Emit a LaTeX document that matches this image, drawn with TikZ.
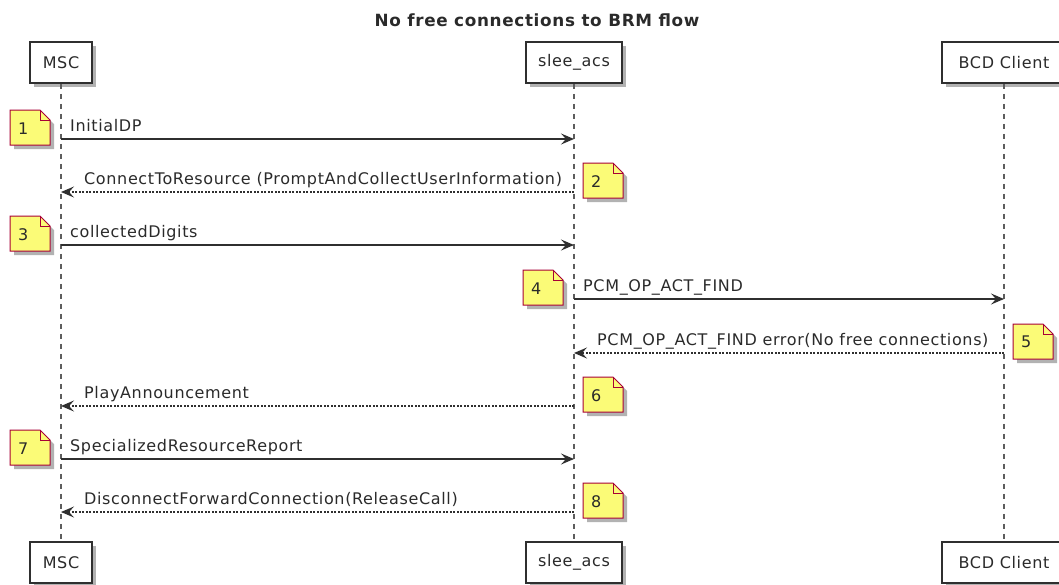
\documentclass[tikz,border=0pt]{standalone}
\usepackage{fontspec}
\setmainfont{DejaVu Sans}[LetterSpace=4]
\usetikzlibrary{arrows.meta,shadows,calc}
\definecolor{notefill}{HTML}{FBFB77}
\definecolor{noteline}{HTML}{A80036}
\definecolor{ink}{HTML}{181818}
\definecolor{txt}{HTML}{2A2A2A}
\newcommand\mynote[4]{%
  \path[notebody] (#2,#3) -- ++(30,0) -- ++(10,10) -- ++(0,25) -- ++(-40,0) -- cycle;
  \draw[noteline, line width=1pt] (#2+30,#3) -- ++(0,10) -- ++(10,0);
  \node[notelabel] (#1) at (#2,#3) {#4};}
\begin{document}
\begin{tikzpicture}[x=1pt,y=-1pt,
  every node/.style={font=\fontsize{16}{18}\selectfont, text=txt},
  actor/.style={draw=ink!90, line width=1.5pt, fill=white, minimum height=41pt, inner sep=0pt,
    drop shadow={shadow xshift=4pt, shadow yshift=-4pt, opacity=0.3, fill=black}},
  life/.style={draw=ink!70, line width=1.2pt, dash pattern=on 5pt off 5pt},
  msg/.style={draw=ink!90, line width=1.3pt, -{Stealth[length=13pt,width=11pt,inset=5pt]}},
  reply/.style={msg, dash pattern=on 2pt off 1.5pt},
  lbl/.style={anchor=base west, inner sep=0pt},
  notebody/.style={fill=notefill, draw=noteline, line width=1pt, line join=miter,
    drop shadow={shadow xshift=4pt, shadow yshift=-4pt, opacity=0.3, fill=black}},
  notelabel/.style={anchor=north west, text width=24pt, align=left, inner xsep=8pt, inner ysep=0pt, minimum height=36pt},
]
\useasboundingbox (0,0) rectangle (1059,584);

\node[font=\bfseries\fontsize{16.8}{19}\selectfont] (title) at (537,20) {No free connections to BRM flow};

% participants
\node[actor, minimum width=62pt] (msc) at (61,62.5) {MSC};
\node[actor, minimum width=96pt] (slee) at (574,62.5) {slee\_acs};
\node[actor, minimum width=124pt] (bcd) at (1004,62.5) {BCD Client};
\node[actor, minimum width=62pt] (mscb) at (61,562.5) {MSC};
\node[actor, minimum width=96pt] (sleeb) at (574,562.5) {slee\_acs};
\node[actor, minimum width=124pt] (bcdb) at (1004,562.5) {BCD Client};

\draw[life] (msc.south) -- (mscb.north);
\draw[life] (slee.south) -- (sleeb.north);
\draw[life] (bcd.south) -- (bcdb.north);

% message rows
\coordinate (r1) at (0,139);
\coordinate (r2) at (0,192);
\coordinate (r3) at (0,245);
\coordinate (r4) at (0,299);
\coordinate (r5) at (0,353);
\coordinate (r6) at (0,406);
\coordinate (r7) at (0,459);
\coordinate (r8) at (0,512);

\draw[msg] (msc |- r1) -- (slee |- r1);
\node[lbl] (l1) at ($(msc |- r1)+(9,-8)$) {InitialDP};
\draw[reply] (slee |- r2) -- (msc |- r2);
\node[lbl] (l2) at ($(msc |- r2)+(23,-8)$) {ConnectToResource (PromptAndCollectUserInformation)};
\draw[msg] (msc |- r3) -- (slee |- r3);
\node[lbl] (l3) at ($(msc |- r3)+(9,-8)$) {collectedDigits};
\draw[msg] (slee |- r4) -- (bcd |- r4);
\node[lbl] (l4) at ($(slee |- r4)+(9,-8)$) {PCM\_OP\_ACT\_FIND};
\draw[reply] (bcd |- r5) -- (slee |- r5);
\node[lbl] (l5) at ($(slee |- r5)+(23,-8)$) {PCM\_OP\_ACT\_FIND error(No free connections)};
\draw[reply] (slee |- r6) -- (msc |- r6);
\node[lbl] (l6) at ($(msc |- r6)+(23,-8)$) {PlayAnnouncement};
\draw[msg] (msc |- r7) -- (slee |- r7);
\node[lbl] (l7) at ($(msc |- r7)+(9,-8)$) {SpecializedResourceReport};
\draw[reply] (slee |- r8) -- (msc |- r8);
\node[lbl] (l8) at ($(msc |- r8)+(23,-8)$) {DisconnectForwardConnection(ReleaseCall)};

% notes
\mynote{n1}{10}{110}{1}
\mynote{n2}{583}{163}{2}
\mynote{n3}{10}{216}{3}
\mynote{n4}{523}{270}{4}
\mynote{n5}{1013}{324}{5}
\mynote{n6}{583}{377}{6}
\mynote{n7}{10}{430}{7}
\mynote{n8}{583}{483}{8}
\end{tikzpicture}
\end{document}
